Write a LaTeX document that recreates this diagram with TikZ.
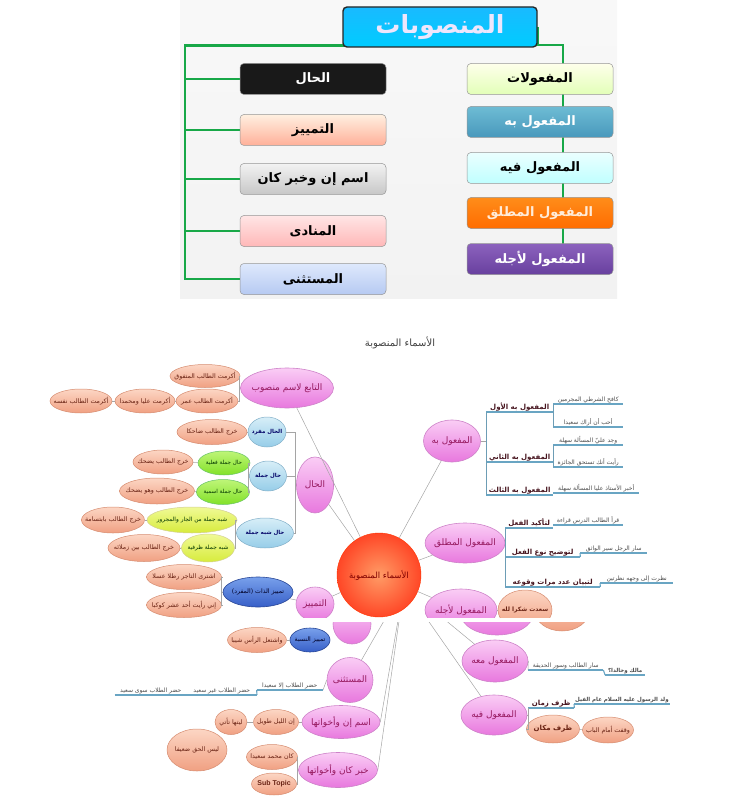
\documentclass[tikz,border=0pt]{standalone}
\usepackage{fontspec}
\usepackage{xcolor}
\usepackage{tikz}
\usetikzlibrary{shapes.geometric, positioning, calc}
\TeXXeTstate=1
\newfontfamily\arabicfont[Script=Arabic]{DejaVu Sans}
\newfontfamily\subfont{Liberation Sans}
\newcommand{\artxt}[1]{{\arabicfont\beginR #1\endR}}
\newcommand{\mmtxt}[1]{\makebox[0pt]{\artxt{#1}}}
\pgfdeclarelayer{bg}
\pgfsetlayers{bg,main}
% top tree colours
\definecolor{treegreen}{RGB}{24,168,72}
\definecolor{panelgray}{RGB}{242,242,242}
\definecolor{boxedge}{RGB}{150,150,150}
\definecolor{titletext}{RGB}{238,230,252}
\definecolor{steeltop}{RGB}{110,188,212}
\definecolor{steelbot}{RGB}{72,152,188}
\definecolor{purpletop}{RGB}{140,98,190}
\definecolor{purplebot}{RGB}{104,64,158}
\definecolor{icetop}{RGB}{222,232,252}
\definecolor{icebot}{RGB}{182,202,242}
% mind map colours
\definecolor{pinktop}{RGB}{250,205,245}
\definecolor{pinkbot}{RGB}{232,120,222}
\definecolor{pinkedge}{RGB}{205,130,200}
\definecolor{pinktext}{RGB}{150,25,95}
\definecolor{leaftop}{RGB}{252,214,196}
\definecolor{leafbot}{RGB}{240,160,130}
\definecolor{leafedge}{RGB}{214,140,112}
\definecolor{leaftext}{RGB}{105,35,20}
\definecolor{bluetop}{RGB}{215,238,248}
\definecolor{bluebot}{RGB}{150,205,232}
\definecolor{blueedge}{RGB}{130,175,200}
\definecolor{greentop}{RGB}{190,245,120}
\definecolor{greenbot}{RGB}{130,225,40}
\definecolor{limetop}{RGB}{240,250,150}
\definecolor{limebot}{RGB}{215,235,60}
\definecolor{navytop}{RGB}{120,160,235}
\definecolor{navybot}{RGB}{55,95,200}
\definecolor{navyedge}{RGB}{40,70,150}
\definecolor{ulineblue}{RGB}{105,165,195}
\definecolor{linegray}{RGB}{165,165,165}
\definecolor{topictext}{RGB}{70,20,30}
\tikzset{
  topbox/.style={rectangle, rounded corners=4pt, draw=boxedge, line width=0.5pt,
    minimum width=146, minimum height=31, inner sep=0pt,
    font=\bfseries\fontsize{13}{15}\selectfont},
  titlebox/.style={rectangle, rounded corners=4pt, draw=black!85, line width=1.4pt,
    minimum width=194, minimum height=40, inner sep=0pt,
    top color=cyan!70!blue!90!white, bottom color=cyan!80!blue, text=titletext,
    font=\bfseries\fontsize{25}{28}\selectfont},
  boxblack/.style={fill=black!90, text=white},
  boxpeach/.style={top color=orange!12, bottom color=orange!45!red!40},
  boxgray/.style={top color=black!5, bottom color=black!22},
  boxpink/.style={top color=red!10, bottom color=red!28},
  boxblue/.style={top color=icetop, bottom color=icebot},
  boxlime/.style={top color=green!4!yellow!8, bottom color=green!40!yellow!28},
  boxsteel/.style={top color=steeltop, bottom color=steelbot, text=white},
  boxsky/.style={top color=cyan!8, bottom color=cyan!25},
  boxorange/.style={top color=orange!90, bottom color=orange!85!red, text=orange!15},
  boxpurple/.style={top color=purpletop, bottom color=purplebot, text=white},
  treeline/.style={line width=2.8pt, color=treegreen},
  hub/.style={circle, minimum size=84, inner sep=0pt, draw=red!60!orange,
    inner color=red!30!orange!60!white, outer color=red!70!orange!85,
    text=red!50!black, font=\fontsize{8.5}{10}\selectfont},
  branch/.style 2 args={ellipse, minimum width=#1, minimum height=#2, inner sep=0pt,
    draw=pinkedge, line width=0.6pt, top color=pinktop, bottom color=pinkbot,
    text=pinktext, font=\fontsize{9}{10}\selectfont},
  leaf/.style 2 args={ellipse, minimum width=#1, minimum height=#2, inner sep=0pt,
    draw=leafedge, line width=0.5pt, top color=leaftop, bottom color=leafbot,
    text=leaftext, font=\fontsize{6.3}{7}\selectfont},
  bluenode/.style 2 args={ellipse, minimum width=#1, minimum height=#2, inner sep=0pt,
    draw=blueedge, line width=0.5pt, top color=bluetop, bottom color=bluebot,
    text=blue!40!black, font=\bfseries\fontsize{5.5}{6}\selectfont},
  greennode/.style 2 args={ellipse, minimum width=#1, minimum height=#2, inner sep=0pt,
    draw=green!60!black!60, line width=0.5pt, top color=greentop, bottom color=greenbot,
    text=green!20!black, font=\fontsize{5.6}{6}\selectfont},
  limenode/.style 2 args={ellipse, minimum width=#1, minimum height=#2, inner sep=0pt,
    draw=yellow!60!black!50, line width=0.5pt, top color=limetop, bottom color=limebot,
    text=green!20!black, font=\fontsize{5.8}{6}\selectfont},
  navynode/.style 2 args={ellipse, minimum width=#1, minimum height=#2, inner sep=0pt,
    draw=navyedge, line width=0.6pt, top color=navytop, bottom color=navybot,
    text=blue!15!black, font=\fontsize{6.2}{7}\selectfont},
  topic/.style={inner sep=1pt, text=topictext, font=\bfseries\fontsize{7}{8}\selectfont},
  example/.style={inner sep=1pt, text=black!70, font=\fontsize{6}{7}\selectfont},
  uline/.style={line width=1.1pt, color=ulineblue},
  bracket/.style={line width=0.6pt, color=ulineblue!80!gray},
  mapline/.style={line width=0.5pt, color=linegray}
}
\begin{document}
\begin{tikzpicture}[x=1pt, y=-1pt]
  \useasboundingbox (0,0) rectangle (747,810);

  % ---- top tree ----
  \node[titlebox] (title) at (440,27) {\artxt{المنصوبات}};
  \foreach \nm/\txt/\yy/\sty in {tHal/الحال/79/boxblack, tTamyiz/التمييز/130/boxpeach,
      tIsm/اسم إن وخبر كان/179/boxgray, tMunada/المنادى/231/boxpink,
      tMustathna/المستثنى/279/boxblue}
    \node[topbox, \sty] (\nm) at (313,\yy) {\artxt{\txt}};
  \foreach \nm/\txt/\yy/\sty in {tMafulat/المفعولات/79/boxlime, tBih/المفعول به/122/boxsteel,
      tFihi/المفعول فيه/168/boxsky, tMutlaq/المفعول المطلق/213/boxorange,
      tAjlihi/المفعول لأجله/259/boxpurple}
    \node[topbox, \sty] (\nm) at (540,\yy) {\artxt{\txt}};

  \begin{pgfonlayer}{bg}
    \shade[top color=panelgray!50, bottom color=panelgray] (180,0) rectangle (617,298);
    \coordinate (lspine) at (185,45);
    \coordinate (rspine) at (563,45);
    \draw[treeline] (title.south west) ++(6,-2) -| (lspine |- tMustathna.west) -- (tMustathna.west);
    \foreach \nm in {tHal,tTamyiz,tIsm,tMunada}
      \draw[treeline] (lspine |- \nm.west) -- (\nm.west);
    \draw[treeline] (title.east) |- (rspine) -- (rspine |- tAjlihi.center);
  \end{pgfonlayer}

  % ---- mind map, upper part ----
  \node[text=black!75, font=\fontsize{10}{12}\selectfont] (maptitle) at (400,343) {\artxt{الأسماء المنصوبة}};
  \begin{scope}
    \clip (0,330) rectangle (747,617);
    \node[hub] (hub) at (379,575) {\mmtxt{الأسماء المنصوبة}};

    % right branches
    \node[branch={57}{42}] (mbih) at (452,441) {\mmtxt{المفعول به}};
    \node[topic, anchor=south west, minimum width=67] (mb1) at (486,412) {\artxt{المفعول به الأول}};
    \node[topic, anchor=south west, minimum width=67] (mb2) at (486,462) {\artxt{المفعول به الثاني}};
    \node[topic, anchor=south west, minimum width=67] (mb3) at (486,495) {\artxt{المفعول به الثالث}};
    \node[example, anchor=south west, minimum width=70] (mb1a) at (553,404) {\artxt{كافح الشرطي المجرمين}};
    \node[example, anchor=south west, minimum width=70] (mb1b) at (553,427) {\artxt{أحب أن أراك سعيدا}};
    \node[example, anchor=south west, minimum width=70] (mb2a) at (553,445) {\artxt{وجد عليّ المسألة سهلة}};
    \node[example, anchor=south west, minimum width=70] (mb2b) at (553,467) {\artxt{رأيت أنك تستحق الجائزة}};
    \node[example, anchor=south west, minimum width=86] (mb3a) at (553,493) {\artxt{أخبر الأستاذ عليا المسألة سهلة}};

    \node[branch={80}{40}] (mutlaq) at (465,543) {\mmtxt{المفعول المطلق}};
    \node[topic, anchor=south west, minimum width=48] (mt1) at (505,528) {\artxt{لتأكيد الفعل}};
    \node[topic, anchor=south west, minimum width=75] (mt2) at (505,557) {\artxt{لتوضيح نوع الفعل}};
    \node[topic, anchor=south west, minimum width=95] (mt3) at (505,587) {\artxt{لتبيان عدد مرات وقوعه}};
    \node[example, anchor=south west, minimum width=70] (mt1a) at (553,525) {\artxt{قرأ الطالب الدرس قراءة}};
    \node[example, anchor=south west, minimum width=67] (mt2a) at (580,553) {\artxt{سار الرجل سير الواثق}};
    \node[example, anchor=south west, minimum width=73] (mt3a) at (600,583) {\artxt{نظرت إلى وجهه نظرتين}};

    \node[branch={72}{42}] (ajl) at (461,610) {\mmtxt{المفعول لأجله}};
    \node[leaf={54}{40}, font=\bfseries\fontsize{6}{7}\selectfont] (ajl1) at (525,610) {\mmtxt{سعدت شكرا لله}};

    \foreach \n in {mb1,mb2,mb3,mb1a,mb1b,mb2a,mb2b,mb3a,mt1,mt2,mt3,mt1a,mt2a,mt3a}
      \draw[uline] (\n.south west) -- (\n.south east);
    \draw[bracket] (mb1.south west) -- (mb3.south west);
    \draw[bracket] (mb1a.south west) -- (mb1b.south west);
    \draw[bracket] (mb2a.south west) -- (mb2b.south west);
    \draw[bracket] (mt1.south west) -- (mt3.south west);
    \draw[uline] (mt2.south east) -- (mt2a.south west);
    \draw[uline] (mt3.south east) -- (mt3a.south west);
    \draw[mapline] (mbih.east) -- (mbih.east -| mb1.south west);
    \draw[mapline] (ajl) -- (ajl1);

    % left branches
    \node[branch={93}{40}] (tabi) at (287,388) {\mmtxt{التابع لاسم منصوب}};
    \node[leaf={70}{23}] (tabi1) at (205,376) {\mmtxt{أكرمت الطالب المتفوق}};
    \node[leaf={62}{24}] (tabi2) at (207,401) {\mmtxt{أكرمت الطالب عمر}};
    \node[leaf={60}{24}] (tabi3) at (145,401) {\mmtxt{أكرمت عليا ومحمدا}};
    \node[leaf={62}{24}] (tabi4) at (81,401) {\mmtxt{أكرمت الطالب نفسه}};

    \node[branch={37}{56}] (hal) at (315,485) {\mmtxt{الحال}};
    \node[bluenode={38}{30}] (hal1) at (267,432) {\mmtxt{الحال مفرد}};
    \node[bluenode={37}{30}] (hal2) at (268,476) {\mmtxt{حال جملة}};
    \node[bluenode={57}{30}] (hal3) at (265,533) {\mmtxt{حال شبه جملة}};
    \node[leaf={70}{25}] (hal1a) at (212,432) {\mmtxt{خرج الطالب ضاحكا}};
    \node[greennode={52}{24}] (hal2a) at (224,463) {\mmtxt{حال جملة فعلية}};
    \node[greennode={53}{25}] (hal2b) at (223,492) {\mmtxt{حال جملة اسمية}};
    \node[leaf={60}{24}] (hal2a1) at (163,462) {\mmtxt{خرج الطالب يضحك}};
    \node[leaf={75}{26}] (hal2b1) at (157,491) {\mmtxt{خرج الطالب وهو يضحك}};
    \node[limenode={90}{26}] (hal3a) at (192,520) {\mmtxt{شبه جملة من الجار والمجرور}};
    \node[limenode={53}{28}] (hal3b) at (208,548) {\mmtxt{شبه جملة ظرفية}};
    \node[leaf={63}{26}] (hal3a1) at (113,520) {\mmtxt{خرج الطالب بابتسامة}};
    \node[leaf={72}{27}] (hal3b1) at (144,548) {\mmtxt{خرج الطالب بين زملائه}};

    \node[branch={38}{34}] (tam) at (315,604) {\mmtxt{التمييز}};
    \node[navynode={70}{30}] (tam1) at (258,592) {\mmtxt{تمييز الذات (المفرد)}};
    \node[leaf={75}{25}] (tam1a) at (184,577) {\mmtxt{اشترى التاجر رطلا عسلا}};
    \node[leaf={75}{25}] (tam1b) at (184,605) {\mmtxt{إني رأيت أحد عشر كوكبا}};

    \foreach \n in {tabi1,tabi2}
      \draw[mapline] (tabi.west) -- ++(-1,0) |- (\n.east);
    \draw[mapline] (tabi2) -- (tabi3);
    \draw[mapline] (tabi3) -- (tabi4);
    \foreach \n in {hal1,hal2,hal3}
      \draw[mapline] (hal.west) -- ++(-1,0) |- (\n.east);
    \draw[mapline] (hal1) -- (hal1a);
    \foreach \n in {hal2a,hal2b}
      \draw[mapline] (hal2.west) -- ++(-1,0) |- (\n.east);
    \foreach \n in {hal3a,hal3b}
      \draw[mapline] (hal3.west) -- ++(-1,0) |- (\n.east);
    \draw[mapline] (hal2a) -- (hal2a1);
    \draw[mapline] (hal2b) -- (hal2b1);
    \draw[mapline] (hal3a) -- (hal3a1);
    \draw[mapline] (hal3b) -- (hal3b1);
    \draw[mapline] (tam) -- (tam1);
    \foreach \n in {tam1a,tam1b}
      \draw[mapline] (tam1.west) -- ++(-1,0) |- (\n.east);

    \foreach \n in {tabi,hal,tam,mbih,mutlaq,ajl}
      \draw[mapline] (hub) -- (\n);
  \end{scope}

  % ---- mind map, lower part ----
  \begin{scope}
    \clip (0,622) rectangle (747,810);
    \coordinate (hubb) at (404,586);
    \node[branch={38}{40}] (tamb) at (352,624) {};
    \node[branch={72}{42}] (ajlb) at (497,614) {};
    \node[leaf={54}{40}] (ajlb1) at (562,611) {};
    \node[navynode={40}{24}] (nisba) at (310,640) {\mmtxt{تمييز النسبة}};
    \node[leaf={59}{25}] (nisba1) at (257,640) {\mmtxt{واشتعل الرأس شيبا}};

    \node[branch={46}{45}] (mustathna) at (350,680) {\mmtxt{المستثنى}};
    \node[example, anchor=south east, minimum width=66] (ms1) at (323,690) {\artxt{حضر الطلاب إلا سعيدا}};
    \node[example, anchor=south east, minimum width=70] (ms2) at (257,695) {\artxt{حضر الطلاب غير سعيد}};
    \node[example, anchor=south east, minimum width=72] (ms3) at (187,695) {\artxt{حضر الطلاب سوى سعيد}};

    \node[branch={78}{33}] (inna) at (341,722) {\mmtxt{اسم إن وأخواتها}};
    \node[leaf={45}{25}] (in1) at (276,722) {\mmtxt{إن الليل طويل}};
    \node[leaf={32}{25}] (in2) at (231,722) {\mmtxt{ليتها تأتي}};
    \node[leaf={60}{42}] (laysa) at (197,750) {\mmtxt{ليس الحق ضعيفا}};

    \node[branch={79}{35}] (kana) at (338,770) {\mmtxt{خبر كان وأخواتها}};
    \node[leaf={51}{25}] (kn1) at (272,757) {\mmtxt{كان محمد سعيدا}};
    \node[leaf={45}{22}] (kn2) at (274,784) {\makebox[0pt]{\subfont\bfseries\fontsize{7}{8}\selectfont Sub Topic}};

    \node[branch={66}{42}] (maahu) at (495,661) {\mmtxt{المفعول معه}};
    \node[example, anchor=south west, minimum width=75] (mh1) at (528,670) {\artxt{سار الطالب وسور الحديقة}};
    \node[example, anchor=south west, minimum width=40, font=\bfseries\fontsize{5.5}{6}\selectfont] (mh1a) at (605,675) {\artxt{مالك وخالدا؟}};

    \node[branch={66}{40}] (fihi) at (494,715) {\mmtxt{المفعول فيه}};
    \node[topic, anchor=south west, minimum width=46] (fz) at (528,708) {\artxt{ظرف زمان}};
    \node[example, anchor=south west, minimum width=95, font=\bfseries\fontsize{5.5}{6}\selectfont] (fz1) at (574,704) {\artxt{ولد الرسول عليه السلام عام الفيل}};
    \node[leaf={53}{28}, font=\bfseries\fontsize{7}{8}\selectfont] (fm) at (553,729) {\mmtxt{ظرف مكان}};
    \node[leaf={51}{26}] (fm1) at (608,730) {\mmtxt{وقفت أمام الباب}};

    \foreach \n in {ms1,ms2,ms3,mh1,mh1a,fz,fz1}
      \draw[uline] (\n.south west) -- (\n.south east);
    \draw[uline] (ms1.south west) -- (ms2.south east);
    \draw[uline] (mh1.south east) -- (mh1a.south west);
    \draw[uline] (fz.south east) -- (fz1.south west);
    \draw[mapline] (mustathna.west) -- (ms1.south east);
    \draw[mapline] (nisba) -- (nisba1);
    \draw[mapline] (inna) -- (in1);
    \draw[mapline] (in1) -- (in2);
    \foreach \n in {kn1,kn2}
      \draw[mapline] (kana.west) -- ++(-1,0) |- (\n.east);
    \draw[mapline] (maahu.east) -- (mh1.south west);
    \draw[mapline] (fihi.east) -- ++(1,0) |- (fz.south west);
    \draw[mapline] (fihi.east) -- ++(1,0) |- (fm.west);
    \draw[mapline] (fm) -- (fm1);
    \foreach \n in {mustathna,maahu,fihi}
      \draw[mapline] (hubb) -- (\n);
    \draw[mapline] (hubb) -- (inna.east);
    \draw[mapline] (hubb) -- (kana.east);
  \end{scope}
\end{tikzpicture}
\end{document}
